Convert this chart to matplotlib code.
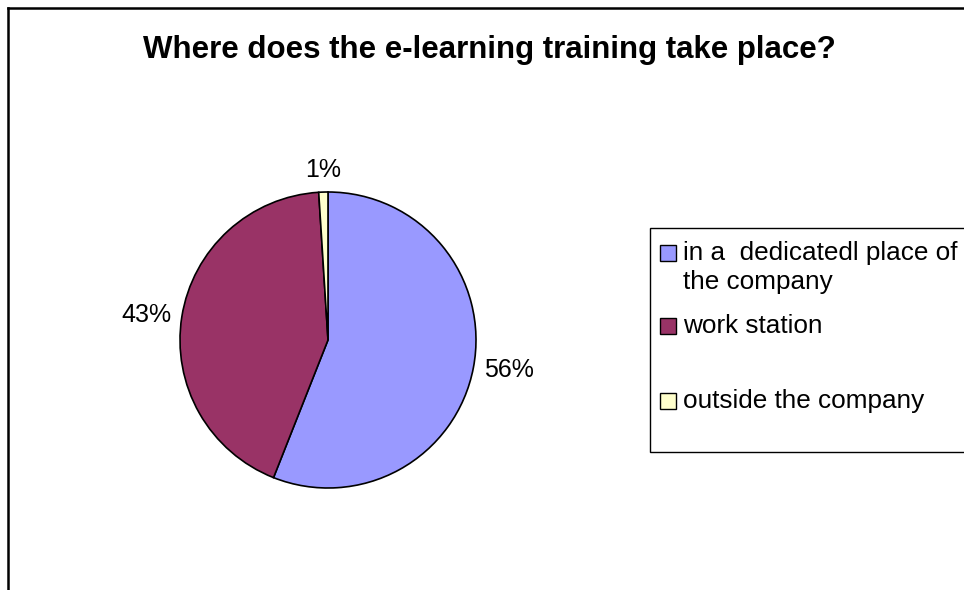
import numpy as np
import matplotlib
matplotlib.use("Agg")
import matplotlib.pyplot as plt
from matplotlib.patches import Rectangle
from matplotlib.lines import Line2D

plt.rcParams['font.family'] = ['Liberation Sans', 'DejaVu Sans']

title = "Where does the e-learning training take place?"
categories = ["in a  dedicatedl place of\nthe company", "work station", "outside the company"]
values = [56, 43, 1]
colors = ["#9999FF", "#993366", "#FFFFCC"]

W, H = 964, 590
fig = plt.figure(figsize=(W / 100, H / 100), dpi=100)


def fx(px):
    return px / W


def fy(py):
    return 1 - py / H


# outer chart border (top and left visible)
fig.add_artist(Line2D([fx(8), fx(8)], [fy(8), fy(H)], color="black", lw=1.8, transform=fig.transFigure))
fig.add_artist(Line2D([fx(8), fx(W)], [fy(8), fy(8)], color="black", lw=1.8, transform=fig.transFigure))

fig.text(fx(489), fy(50), title, ha="center", va="center", fontsize=22.5, fontweight="bold")

# pie axes: centre (328, 340), radius 148 px
cx, cy, r = 328, 340, 148
half = 1.25 * r
ax = fig.add_axes([fx(cx - half), fy(cy + half), 2 * half / W, 2 * half / H])
wedges, texts = ax.pie(values, colors=colors, startangle=90, counterclock=False,
                       labels=[f"{v}%" for v in values], labeldistance=1.07,
                       wedgeprops=dict(edgecolor="black", linewidth=1.2),
                       textprops=dict(fontsize=18))
for w, t in zip(wedges, texts):
    ang = np.deg2rad((w.theta1 + w.theta2) / 2)
    if abs(np.cos(ang)) < 0.3:
        t.set_horizontalalignment("center")
        t.set_verticalalignment("bottom" if np.sin(ang) > 0 else "top")
ax.set_xlim(-1.25, 1.25)
ax.set_ylim(-1.25, 1.25)
ax.set_aspect("equal")
ax.axis("off")

# legend box
lx0, ly0, lx1, ly1 = 650, 228, 975, 452
fig.add_artist(Rectangle((fx(lx0), fy(ly1)), (lx1 - lx0) / W, (ly1 - ly0) / H,
                         transform=fig.transFigure, facecolor="white",
                         edgecolor="black", lw=1.0))
entry_y = [253, 326, 401]
for lab, col, yy in zip(categories, colors, entry_y):
    fig.add_artist(Rectangle((fx(660), fy(yy + 8)), 16 / W, 16 / H,
                             transform=fig.transFigure, facecolor=col,
                             edgecolor="black", lw=1.0))
    for i, ln in enumerate(lab.split("\n")):
        fig.text(fx(683), fy(yy + 29 * i), ln, ha="left", va="center", fontsize=18.8)

fig.savefig("out.png", dpi=100)
